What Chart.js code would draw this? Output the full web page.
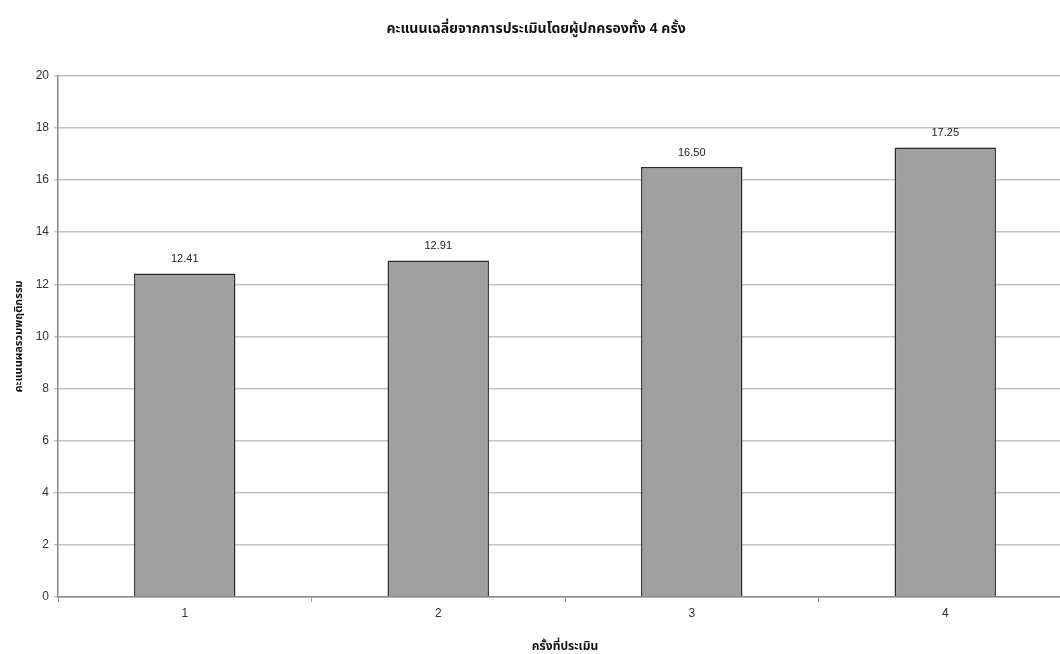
<!DOCTYPE html>
<html>
<head>
<meta charset="utf-8">
<script src="https://cdn.jsdelivr.net/npm/chart.js@4.4.0/dist/chart.umd.min.js"></script>
<style>
  html, body { margin: 0; padding: 0; background: #fff; overflow: hidden; }
  #wrap { width: 1060px; height: 654px; overflow: hidden; }
</style>
</head>
<body>
<div id="wrap"><canvas id="bar-chart" width="1072" height="654"></canvas></div>
<script>
const rounds = ['1', '2', '3', '4']
const scores = [12.41, 12.91, 16.50, 17.25]
const yTicks = [0, 2, 4, 6, 8, 10, 12, 14, 16, 18, 20]

const fontFamily = '"Liberation Sans", Arial, "Noto Sans Thai", sans-serif'

// draws the value above each bar
const valueLabels = {
  id: 'valueLabels',
  afterDatasetsDraw(chart) {
    const ctx = chart.ctx
    const meta = chart.getDatasetMeta(0)
    ctx.save()
    ctx.font = '11px ' + fontFamily
    ctx.fillStyle = '#222'
    ctx.textAlign = 'center'
    ctx.textBaseline = 'bottom'
    meta.data.forEach((bar, i) => {
      ctx.fillText(scores[i].toFixed(2), bar.x, bar.y - 9)
    })
    ctx.restore()
  }
}

const barChart = new Chart(document.getElementById('bar-chart'), {
  type: 'bar',
  data: {
    labels: rounds,
    datasets: [{
      data: scores,
      backgroundColor: '#a0a0a0',
      borderColor: '#2a2a2a',
      borderWidth: 1.5,
      categoryPercentage: 1,
      barPercentage: 0.4
    }]
  },
  options: {
    responsive: false,
    animation: false,
    plugins: {
      legend: { display: false },
      tooltip: { enabled: false },
      title: {
        display: true,
        text: 'คะแนนเฉลี่ยจากการประเมินโดยผู้ปกครองทั้ง 4 ครั้ง',
        color: '#111',
        font: { family: fontFamily, size: 14, weight: 'bold' },
        padding: { top: 21, bottom: 38 }
      }
    },
    scales: {
      x: {
        afterFit: (scale) => { scale.height = 57 },
        grid: { display: true, drawOnChartArea: false, offset: true, tickLength: 5, color: '#999' },
        border: { color: '#888', width: 1.5 },
        ticks: { color: '#333', font: { family: fontFamily, size: 12 }, padding: 4 },
        title: {
          display: true,
          text: 'ครั้งที่ประเมิน',
          color: '#111',
          font: { family: fontFamily, size: 12, weight: 'bold' },
          padding: { top: 4, bottom: 0 }
        }
      },
      y: {
        min: 0,
        max: 20,
        afterFit: (scale) => { scale.width = 58 },
        afterBuildTicks: (scale) => { scale.ticks = yTicks.map(v => ({ value: v })) },
        grid: { color: '#c4c4c4', lineWidth: 1.5, tickLength: 4 },
        border: { color: '#888', width: 1.5 },
        ticks: { color: '#333', font: { family: fontFamily, size: 12 }, padding: 5 },
        title: {
          display: true,
          text: 'คะแนนผลรวมพฤติกรรม',
          color: '#111',
          font: { family: fontFamily, size: 11, weight: 'bold' },
          padding: { top: 12, bottom: 4 }
        }
      }
    }
  },
  plugins: [valueLabels]
})
</script>
</body>
</html>
